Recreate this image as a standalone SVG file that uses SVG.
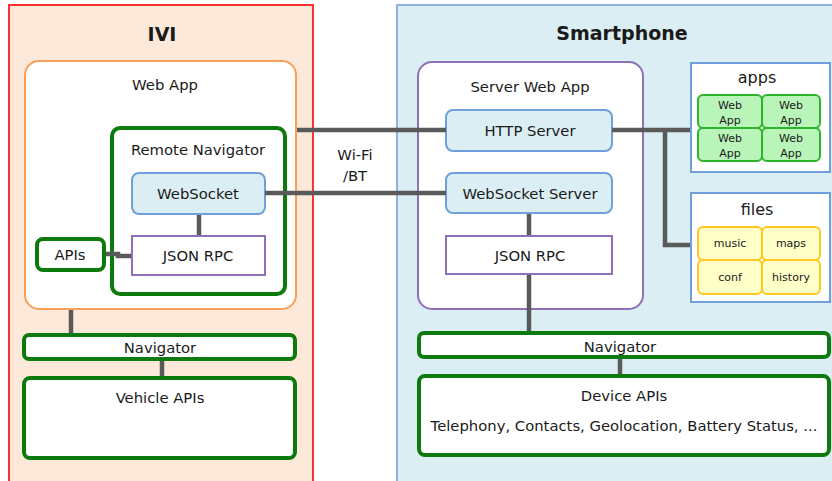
<svg xmlns="http://www.w3.org/2000/svg" width="832" height="481" viewBox="0 0 832 481">
<style>
text{font-family:"DejaVu Sans","Liberation Sans",sans-serif;fill:#1a1a1a;text-anchor:middle;font-size:14.8px}
.title{font-weight:bold;font-size:19px}
.grn{fill:#fff;stroke:#0c7a0c;stroke-width:4}
.blu{fill:#daeef3;stroke:#6fa0dc;stroke-width:2}
.pur{fill:#fff;stroke:#8e6fb8;stroke-width:2}
.conn{stroke:#5a5a5a;stroke-width:4.5;fill:none}
.cellg{fill:#b9f5b9;stroke:#2cb52c;stroke-width:2}
.celly{fill:#ffffc8;stroke:#ffc820;stroke-width:2}
.small{font-size:11px}
.lbl{font-size:16px}
</style>
<rect width="832" height="481" fill="#fff"/>
<g id="ivi">
<rect x="9" y="5" width="304" height="480" fill="#fde9d9" stroke="#ff3030" stroke-width="2"/>
<text class="title" x="162" y="41">IVI</text>
</g>
<g id="smartphone">
<rect x="397" y="5" width="440" height="480" fill="#daeef3" stroke="#8db3e2" stroke-width="2"/>
<text class="title" x="622" y="40">Smartphone</text>
</g>
<g id="webapp">
<rect x="25" y="61" width="271" height="248" rx="14" fill="#fff" stroke="#f7a05a" stroke-width="2"/>
<text x="165" y="90">Web App</text>
</g>
<g id="remote-navigator">
<rect class="grn" x="112" y="128" width="173" height="166" rx="8"/>
<text x="198" y="155">Remote Navigator</text>
</g>
<g id="websocket">
<rect class="blu" x="132" y="173" width="133" height="41" rx="7"/>
<text x="198" y="199">WebSocket</text>
</g>
<g id="jsonrpc-ivi">
<rect class="pur" x="132" y="236" width="133" height="39"/>
<text x="198" y="261">JSON RPC</text>
</g>
<g id="apis">
<rect class="grn" x="37" y="239" width="67" height="31" rx="6"/>
<text x="70" y="260">APIs</text>
</g>
<g id="navigator-ivi">
<rect class="grn" x="24" y="335" width="271" height="24" rx="5"/>
<text x="160" y="353">Navigator</text>
</g>
<g id="vehicle-apis">
<rect class="grn" x="24" y="378" width="271" height="80" rx="6"/>
<text x="160" y="403">Vehicle APIs</text>
</g>
<text x="355" y="160">Wi-Fi</text>
<text x="355" y="181">/BT</text>
<g id="server-webapp">
<rect x="418" y="62" width="225" height="247" rx="14" fill="#fff" stroke="#8e6fb8" stroke-width="2"/>
<text x="530" y="92">Server Web App</text>
</g>
<g id="http-server">
<rect class="blu" x="446" y="110" width="166" height="41" rx="7"/>
<text x="530" y="136">HTTP Server</text>
</g>
<g id="websocket-server">
<rect class="blu" x="446" y="173" width="166" height="40" rx="7"/>
<text x="530" y="199">WebSocket Server</text>
</g>
<g id="jsonrpc-phone">
<rect class="pur" x="446" y="236" width="166" height="38"/>
<text x="530" y="261">JSON RPC</text>
</g>
<g id="navigator-phone">
<rect class="grn" x="419" y="333" width="410" height="24" rx="5"/>
<text x="620" y="352">Navigator</text>
</g>
<g id="device-apis">
<rect class="grn" x="419" y="376" width="410" height="79" rx="6"/>
<text x="624" y="401">Device APIs</text>
<text x="624" y="431">Telephony, Contacts, Geolocation, Battery Status, ...</text>
</g>
<g id="apps">
<rect x="691" y="63" width="139" height="109" fill="#fff" stroke="#6fa0dc" stroke-width="2"/>
<text class="lbl" x="757" y="83">apps</text>
<rect class="cellg" x="698" y="95" width="64" height="33" rx="5"/>
<rect class="cellg" x="762" y="95" width="58" height="33" rx="5"/>
<rect class="cellg" x="698" y="128" width="64" height="33" rx="5"/>
<rect class="cellg" x="762" y="128" width="58" height="33" rx="5"/>
<text class="small" x="730" y="109">Web</text><text class="small" x="730" y="124">App</text>
<text class="small" x="791" y="109">Web</text><text class="small" x="791" y="124">App</text>
<text class="small" x="730" y="142">Web</text><text class="small" x="730" y="157">App</text>
<text class="small" x="791" y="142">Web</text><text class="small" x="791" y="157">App</text>
</g>
<g id="files">
<rect x="691" y="193" width="139" height="109" fill="#fff" stroke="#6fa0dc" stroke-width="2"/>
<text class="lbl" x="757" y="215">files</text>
<rect class="celly" x="698" y="227" width="64" height="33" rx="5"/>
<rect class="celly" x="762" y="227" width="58" height="33" rx="5"/>
<rect class="celly" x="698" y="260" width="64" height="34" rx="5"/>
<rect class="celly" x="762" y="260" width="58" height="34" rx="5"/>
<text class="small" x="730" y="247">music</text>
<text class="small" x="791" y="247">maps</text>
<text class="small" x="730" y="281">conf</text>
<text class="small" x="791" y="281">history</text>
</g>
<g id="connectors">
<line class="conn" x1="297" y1="130" x2="446" y2="130"/>
<line class="conn" x1="265" y1="193" x2="446" y2="193"/>
<line class="conn" x1="199" y1="215" x2="199" y2="235"/>
<polyline class="conn" points="106,254 118,254 118,256 131,256"/>
<line class="conn" x1="71" y1="310" x2="71" y2="333"/>
<line class="conn" x1="162" y1="361" x2="162" y2="376"/>
<line class="conn" x1="529" y1="214" x2="529" y2="235"/>
<line class="conn" x1="529" y1="275" x2="529" y2="331"/>
<line class="conn" x1="620" y1="359" x2="620" y2="374"/>
<line class="conn" x1="612" y1="130" x2="690" y2="130"/>
<polyline class="conn" points="665,130 665,245 690,245"/>
</g>
</svg>
